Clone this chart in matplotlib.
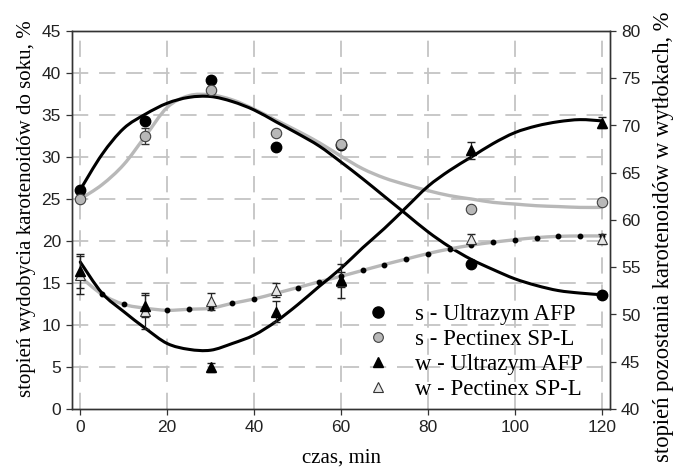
import matplotlib
matplotlib.use("Agg")
from matplotlib import pyplot as plt
from matplotlib.path import Path
from matplotlib.patches import PathPatch

# measurement times, min
t_pts = [0, 15, 30, 45, 60, 90, 120]

# s - juice extraction degree, % (left axis)
s_ultrazym = [26.1, 34.3, 39.2, 31.2, 31.4, 17.3, 13.6]
s_pectinex = [25.0, 32.5, 38.0, 32.9, 31.5, 23.8, 24.6]
s_pectinex_err = [0.0, 1.0, 0.0, 0.0, 0.0, 0.0, 0.0]

# w - carotenoids remaining in pomace, % (right axis)
w_ultrazym = [54.6, 50.9, 44.4, 50.3, 53.7, 67.4, 70.3]
w_ultrazym_err = [1.8, 1.2, 0.5, 1.1, 0.8, 0.9, 0.6]
w_pectinex = [54.2, 50.4, 51.4, 52.6, 53.5, 58.0, 58.0]
w_pectinex_err = [2.0, 1.9, 0.9, 0.7, 1.8, 0.5, 0.5]

# trend curves, read every 5 min
t_fit = list(range(0, 125, 5))
s_ultrazym_fit = [26.1, 30.3, 33.4, 35.1, 36.4, 37.1, 37.2, 36.6, 35.6, 34.2,
                  32.8, 31.3, 29.4, 27.4, 25.3, 23.2, 21.1, 19.3, 17.8, 16.6,
                  15.5, 14.7, 14.1, 13.8, 13.6]
s_pectinex_fit = [25.0, 26.7, 29.1, 32.5, 35.9, 37.3, 37.4, 36.8, 35.7, 34.4,
                  33.1, 31.7, 30.1, 28.6, 27.5, 26.7, 26.0, 25.4, 25.0, 24.6,
                  24.4, 24.2, 24.1, 24.0, 24.0]
# left-axis units, converted below
w_ultrazym_fit_l = [17.5, 13.8, 11.6, 9.6, 7.8, 7.1, 7.0, 7.8, 8.8, 10.4,
                    12.4, 14.6, 16.75, 19.2, 21.5, 24.0, 26.5, 28.4, 30.0, 31.6,
                    32.9, 33.7, 34.2, 34.45, 34.3]
w_pectinex_fit_l = [15.75, 13.65, 12.46, 12.0, 11.75, 11.87, 12.0, 12.58, 13.1,
                    13.77, 14.45, 15.15, 15.8, 16.5, 17.2, 17.85, 18.5, 19.05,
                    19.5, 19.85, 20.15, 20.4, 20.55, 20.6, 20.6]

x_ticks = [0, 20, 40, 60, 80, 100, 120]
left_ticks = list(range(0, 50, 5))
right_ticks = list(range(40, 85, 5))


def to_right(vals):
    return [40 + v * 40 / 45 for v in vals]


def smooth_line(ax, xs, ys, **kw):
    # smoothed line like a spreadsheet chart: bezier segments through points
    n = len(xs)
    verts = [(xs[0], ys[0])]
    codes = [Path.MOVETO]
    for i in range(n - 1):
        x0, y0 = xs[max(i - 1, 0)], ys[max(i - 1, 0)]
        x1, y1 = xs[i], ys[i]
        x2, y2 = xs[i + 1], ys[i + 1]
        x3, y3 = xs[min(i + 2, n - 1)], ys[min(i + 2, n - 1)]
        verts += [(x1 + (x2 - x0) / 6, y1 + (y2 - y0) / 6),
                  (x2 - (x3 - x1) / 6, y2 - (y3 - y1) / 6),
                  (x2, y2)]
        codes += [Path.CURVE4] * 3
    patch = PathPatch(Path(verts, codes), facecolor="none",
                      capstyle="round", joinstyle="round", **kw)
    ax.add_patch(patch)


serif = "Liberation Serif"
sans = "Liberation Sans"
black = "#000000"
grey = "#b8b8b8"

fig = plt.figure(figsize=(6.74, 4.69), dpi=100)
ax = fig.add_axes((72 / 674, 60 / 469, 538 / 674, 378 / 469))
ax2 = ax.twinx()

# gridlines
for x in x_ticks:
    ax.axvline(x, color="#c4c4c4", lw=1.3, dashes=(9, 6), zorder=0)
for y in left_ticks[1:]:
    ax.axhline(y, color="#c4c4c4", lw=1.3, dashes=(9, 6), zorder=0)

# s curves
smooth_line(ax, t_fit, s_pectinex_fit, edgecolor=grey, lw=2.4, zorder=2)
smooth_line(ax, t_fit, s_ultrazym_fit, edgecolor=black, lw=2.2, zorder=3)
ax.errorbar(t_pts, s_pectinex, yerr=s_pectinex_err, fmt="none",
            ecolor="#333333", elinewidth=0.9, capsize=3, zorder=4)
ax.plot(t_pts, s_ultrazym, "o", ms=7.5, mfc=black, mec=black, zorder=5)
ax.plot(t_pts, s_pectinex, "o", ms=7.5, mfc="#b8b8b8", mec="#404040",
        mew=0.8, zorder=5)

# w curves (right axis)
smooth_line(ax2, t_fit, to_right(w_pectinex_fit_l), edgecolor=grey, lw=2.4,
            zorder=2)
ax2.plot(t_fit, to_right(w_pectinex_fit_l), "o", ls="none", ms=3.2,
         color=black, zorder=3)
smooth_line(ax2, t_fit, to_right(w_ultrazym_fit_l), edgecolor=black, lw=2.2,
            zorder=3)
ax2.errorbar(t_pts, w_ultrazym, yerr=w_ultrazym_err, fmt="none",
             ecolor="#222222", elinewidth=0.9, capsize=3, zorder=4)
ax2.errorbar(t_pts, w_pectinex, yerr=w_pectinex_err, fmt="none",
             ecolor="#222222", elinewidth=0.9, capsize=3, zorder=4)
ax2.plot(t_pts, w_pectinex, "^", ms=7.5, mfc="#e6e6e6", mec="#333333",
         mew=0.8, zorder=5)
ax2.plot(t_pts, w_ultrazym, "^", ms=7.5, mfc=black, mec=black, zorder=5)

# axes limits and ticks
ax.set_xlim(-1.9, 121.9)
ax.set_ylim(0, 45)
ax2.set_ylim(40, 80)
ax.set_xticks(x_ticks)
ax.set_yticks(left_ticks)
ax2.set_yticks(right_ticks)
for a in (ax, ax2):
    a.tick_params(direction="out", length=4, width=0.9, labelsize=12.5,
                  pad=4, color="#333333")
    for lab in a.get_xticklabels() + a.get_yticklabels():
        lab.set_fontfamily(sans)
        lab.set_color("#222222")
    for sp in a.spines.values():
        sp.set_linewidth(1.0)
        sp.set_color("#333333")

ax.set_xlabel("czas, min", family=serif, fontsize=15, labelpad=10)
ax.set_ylabel("stopień wydobycia karotenoidów do soku, %", family=serif,
              fontsize=15)
ax.yaxis.set_label_coords(-0.066, 0.53)
ax2.set_ylabel("stopień pozostania karotenoidów w wytłokach, %", family=serif,
               fontsize=16.3)
ax2.yaxis.set_label_coords(1.08, 0.455)

# legend
handles = [
    plt.Line2D([], [], ls="none", marker="o", ms=8, mfc=black, mec=black),
    plt.Line2D([], [], ls="none", marker="o", ms=7, mfc="#b8b8b8",
               mec="#404040", mew=0.8),
    plt.Line2D([], [], ls="none", marker="^", ms=7, mfc=black, mec=black),
    plt.Line2D([], [], ls="none", marker="^", ms=7, mfc="#e6e6e6",
               mec="#333333", mew=0.8),
]
labels = ["s - Ultrazym AFP", "s - Pectinex SP-L", "w - Ultrazym AFP",
          "w - Pectinex SP-L"]
ax2.legend(handles, labels, loc="upper left", bbox_to_anchor=(0.552, 0.279),
           frameon=False, prop={"family": serif, "size": 16.4},
           handlelength=0.8, handletextpad=1.2, labelspacing=0.18,
           borderpad=0, borderaxespad=0)

fig.savefig("out.png", dpi=100)
